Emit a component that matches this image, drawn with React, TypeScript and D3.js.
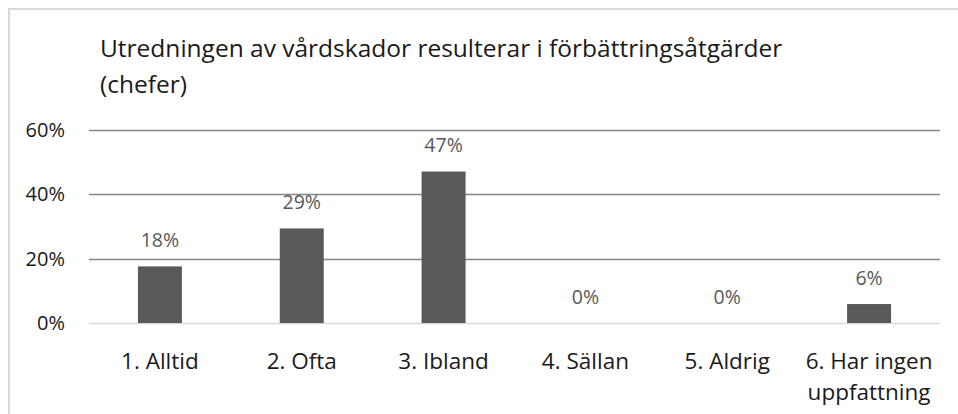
import * as d3 from 'd3';
import React from 'react';

const categories = [
    ['1. Alltid'],
    ['2. Ofta'],
    ['3. Ibland'],
    ['4. Sällan'],
    ['5. Aldrig'],
    ['6. Har ingen', 'uppfattning'],
];
const values = [0.176, 0.294, 0.471, 0, 0, 0.059];
const valueLabels = ['18%', '29%', '47%', '0%', '0%', '6%'];
const yTicks = [0, 0.2, 0.4, 0.6];
const titleLines = [
    'Utredningen av vårdskador resulterar i förbättringsåtgärder',
    '(chefer)',
];

const W = 958;
const H = 414;
const marginLeft = 89;
const marginRight = 18;
const plotTop = 130;
const plotBottom = 323;
const font = "'Open Sans', sans-serif";

const App = () => {
    const x = d3
        .scaleBand<number>()
        .domain(d3.range(categories.length))
        .range([marginLeft, W - marginRight])
        .paddingInner(0.69)
        .paddingOuter(0.345);

    const y = d3.scaleLinear().domain([0, 0.6]).range([plotBottom, plotTop]);
    const band = (W - marginRight - marginLeft) / categories.length;
    const center = (i: number) => marginLeft + band * (i + 0.5);

    return (
        <svg
            width={W}
            height={H}
            style={{ position: 'absolute', left: 0, top: 0, background: '#fff' }}
        >
            <rect x={9} y={9} width={1200} height={800} fill="#fff" stroke="#d9d9d9" strokeWidth={2} />
            {titleLines.map((t, i) => (
                <text key={i} x={100} y={57 + i * 36} fontFamily={font} fontSize={24.5} fill="#1a1a1a">
                    {t}
                </text>
            ))}
            {yTicks.map((t) => (
                <g key={t}>
                    <line
                        x1={marginLeft}
                        x2={W - marginRight}
                        y1={Math.round(y(t)) + 0.5}
                        y2={Math.round(y(t)) + 0.5}
                        stroke={t === 0 ? '#d9d9d9' : '#868686'}
                        strokeWidth={1.5}
                    />
                    <text
                        x={65}
                        y={y(t) + 7}
                        textAnchor="end"
                        fontFamily={font}
                        fontSize={20}
                        fill="#1a1a1a"
                    >
                        {d3.format('.0%')(t)}
                    </text>
                </g>
            ))}
            {values.map((v, i) => (
                <g key={i}>
                    {v > 0 && (
                        <rect
                            x={center(i) - x.bandwidth() / 2}
                            y={y(v)}
                            width={x.bandwidth()}
                            height={y(0) - y(v)}
                            fill="#595959"
                        />
                    )}
                    <text
                        x={center(i)}
                        y={y(v) - 19}
                        textAnchor="middle"
                        fontFamily={font}
                        fontSize={19.5}
                        fill="#595959"
                    >
                        {valueLabels[i]}
                    </text>
                    {categories[i].map((line, j) => (
                        <text
                            key={j}
                            x={center(i)}
                            y={369 + j * 31}
                            textAnchor="middle"
                            fontFamily={font}
                            fontSize={22.5}
                            fill="#1a1a1a"
                        >
                            {line}
                        </text>
                    ))}
                </g>
            ))}
        </svg>
    );
};

export default App;
